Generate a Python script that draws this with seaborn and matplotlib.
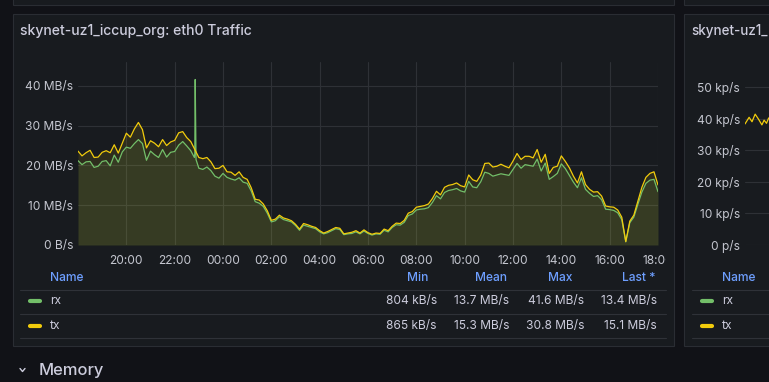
import numpy as np
import pandas as pd
import matplotlib
matplotlib.use("Agg")
import matplotlib.pyplot as plt
import seaborn as sns
from matplotlib.patches import Rectangle
from matplotlib.lines import Line2D
from matplotlib.transforms import Bbox, TransformedBbox

# ---------------- data ----------------
step_minutes = 10  # samples every 10 minutes, starting 18:00
rx_mb = [21.2, 20.2, 20.9, 21.0, 19.5, 19.8, 21.0, 21.2, 19.9, 22.6, 20.8, 23.4, 24.6, 24.3, 25.5, 26.5, 25.5,
         21.3, 23.6, 22.7, 22.0, 24.0, 22.1, 23.3, 23.5, 25.1, 26.0, 24.9, 23.7, 23.0, 19.3, 19.0, 19.6, 18.7,
         17.3, 16.8, 18.0,
         17.0, 16.6, 16.3, 16.9, 15.8, 15.5, 13.6, 10.9, 10.5, 9.7, 8.0, 5.8, 6.1, 7.1, 6.4, 6.1, 5.8, 4.9, 3.7,
         5.0, 4.7, 4.4, 4.1, 3.3, 2.8, 3.1, 3.6, 4.1, 3.9, 2.6, 2.8, 2.9, 3.3, 2.8, 3.5, 2.9,
         2.5, 2.8, 2.7, 3.7, 3.3, 4.4, 5.1, 5.0, 5.7, 7.4, 7.8, 8.8, 9.0, 9.1, 9.4, 10.7, 12.4, 11.6, 13.2, 13.7,
         13.9, 14.2, 13.6, 13.3, 16.0, 14.6, 14.4, 15.9, 18.3, 18.0, 17.3, 17.6, 17.9, 17.7, 17.5, 19.0,
         20.5, 19.3, 20.2, 20.0, 19.8, 21.6, 18.6, 20.6, 16.5, 17.2, 18.0, 20.4, 19.2, 17.5, 15.8, 14.4, 16.9,
         14.0, 13.0, 12.2, 12.4, 11.4, 9.0, 8.9, 8.7, 8.1, 6.4, 0.804, 5.6, 7.0, 10.2, 13.3, 15.5, 16.3, 16.5, 13.4]
tx_mb = [23.6, 22.4, 23.2, 23.8, 22.0, 22.1, 23.3, 23.7, 23.2, 25.2, 23.1, 25.6, 28.1, 27.1, 29.2, 30.8, 29.0,
         24.4, 26.2, 25.6, 24.7, 26.5, 25.0, 25.9, 26.3, 28.2, 28.5, 27.0, 26.0, 24.0, 22.0, 21.7, 22.0, 20.9,
         19.2, 19.3, 20.0,
         18.4, 18.3, 17.5, 18.4, 17.0, 16.5, 14.4, 11.5, 11.3, 10.3, 8.6, 6.2, 6.5, 7.5, 6.8, 6.5, 6.1, 5.2, 4.0,
         5.4, 5.1, 4.7, 4.4, 3.6, 3.0, 3.4, 3.9, 4.4, 4.2, 2.8, 3.0, 3.2, 3.6, 3.0, 3.8, 3.1,
         2.7, 3.0, 2.9, 4.0, 3.6, 4.7, 5.5, 5.4, 6.2, 8.0, 8.4, 9.5, 9.7, 9.9, 10.3, 11.7, 13.5, 12.6, 14.5, 15.0,
         15.2, 15.6, 14.9, 14.6, 17.6, 16.4, 16.0, 17.6, 20.5, 20.6, 19.6, 19.8, 20.3, 19.8, 19.4, 21.1,
         23.0, 21.5, 22.3, 22.3, 21.9, 24.0, 20.8, 22.8, 18.0, 19.5, 19.8, 22.4, 21.0, 19.4, 17.3, 15.6, 18.4,
         15.2, 14.0, 13.3, 13.4, 12.3, 9.8, 9.6, 9.5, 8.8, 7.0, 0.865, 6.0, 7.5, 11.0, 14.5, 17.0, 18.0, 18.4, 15.1]
rx_spike_minutes = [289, 291, 293]
rx_spike_mb = [22.0, 41.6, 21.5]

x_tick_hours = [2, 4, 6, 8, 10, 12, 14, 16, 18, 20, 22, 24]
x_tick_labels = ["20:00", "22:00", "00:00", "02:00", "04:00", "06:00",
                 "08:00", "10:00", "12:00", "14:00", "16:00", "18:00"]
y_ticks = [0, 10, 20, 30, 40]
y_tick_labels = ["0 B/s", "10 MB/s", "20 MB/s", "30 MB/s", "40 MB/s"]

series_names = ["rx", "tx"]
stat_headers = ["Min", "Mean", "Max", "Last *"]
rx_stats = ["804 kB/s", "13.7 MB/s", "41.6 MB/s", "13.4 MB/s"]
tx_stats = ["865 kB/s", "15.3 MB/s", "30.8 MB/s", "15.1 MB/s"]

# second (partially visible) panel: packets
pk_hours = [0.0, 0.17, 0.29, 0.42, 0.56, 0.70, 0.79, 0.89, 0.98, 1.10]
pk_tx = [38.3, 40.4, 39.0, 41.4, 39.8, 38.0, 39.5, 38.5, 40.2, 39.0]
pk_ticks = [0, 10, 20, 30, 40, 50]
pk_tick_labels = ["0 p/s", "10 kp/s", "20 kp/s", "30 kp/s", "40 kp/s", "50 kp/s"]

# ---------------- style ----------------
BG = "#111217"
PANEL = "#181b1f"
BORDER = "#2a2d33"
GRID = "#2e3136"
SEP = "#2f3238"
TEXT = "#ccccdc"
TICK = "#c4c6cf"
BLUE = "#6e9fff"
GREEN = "#73bf69"
YELLOW = "#f2cc0c"
PX = 0.72  # points per pixel at dpi 100

sns.set_style("dark")
plt.rcParams["font.family"] = ["Inter", "DejaVu Sans"]

W, H = 769, 382
fig = plt.figure(figsize=(W / 100, H / 100), dpi=100, facecolor=BG)


def X(p):
    return p / W


def Y(p):
    return 1 - p / H


def panel(x0, y0, x1, y1):
    fig.add_artist(Rectangle((X(x0), Y(y1)), X(x1) - X(x0), Y(y0) - Y(y1),
                             transform=fig.transFigure, fc=PANEL, ec=BORDER, lw=0.8, zorder=0))


panel(12.5, -20, 674, 4.5)
panel(683.5, -20, 820, 4.5)
panel(12.5, 13.5, 674, 346)
panel(683.5, 13.5, 820, 346)

# ---------------- main chart ----------------
hours = np.arange(len(rx_mb)) * step_minutes / 60.0
rx_df = pd.DataFrame({"hours": np.concatenate([hours, np.array(rx_spike_minutes) / 60.0]),
                      "value": np.concatenate([rx_mb, rx_spike_mb]), "series": "rx"}).sort_values("hours")
tx_df = pd.DataFrame({"hours": hours, "value": tx_mb, "series": "tx"})
df = pd.concat([rx_df, tx_df], ignore_index=True)

ax = fig.add_axes([X(78), Y(245), X(658) - X(78), Y(62) - Y(245)])
ax.patch.set_alpha(0)
ax.fill_between(rx_df["hours"], rx_df["value"], 0, color=GREEN, alpha=0.10, lw=0, zorder=1)
ax.fill_between(tx_df["hours"], tx_df["value"], 0, color=YELLOW, alpha=0.10, lw=0, zorder=1)
sns.lineplot(data=df, x="hours", y="value", hue="series", hue_order=series_names,
             palette={"rx": GREEN, "tx": YELLOW}, estimator=None, sort=True,
             legend=False, linewidth=0.9, ax=ax, zorder=3)
ax.set_xlim(0, 24)
ax.set_ylim(0, 46)
ax.set_xticks(x_tick_hours)
ax.set_xticklabels(x_tick_labels)
ax.set_yticks(y_ticks)
ax.set_yticklabels(y_tick_labels)
ax.set_xlabel("")
ax.set_ylabel("")
ax.grid(True, color=GRID, lw=0.8)
ax.set_axisbelow(True)
for s in ax.spines.values():
    s.set_visible(False)
ax.tick_params(axis="x", length=0, pad=7.0, labelsize=12 * PX, colors=TICK)
ax.tick_params(axis="y", length=0, pad=3.6, labelsize=12 * PX, colors=TICK)
clip = TransformedBbox(Bbox.from_extents(X(12), 0, X(666), 1), fig.transFigure)
for lbl in ax.get_xticklabels():
    lbl.set_clip_on(True)
    lbl.set_clip_box(clip)

# title
fig.text(X(20), Y(31), "skynet-uz1_iccup_org: eth0 Traffic", fontsize=14 * PX,
         color=TEXT, fontweight="medium", va="center", ha="left")

# legend table
fig.text(X(50), Y(278), "Name", fontsize=12 * PX, color=BLUE, fontweight="medium", va="center")
header_right = [428, 507, 572, 656]
value_right = [437, 509, 584, 657]
for h, xr in zip(stat_headers, header_right):
    fig.text(X(xr), Y(278), h, fontsize=12 * PX, color=BLUE, fontweight="medium", va="center", ha="right")
for yy in [289.5, 313.5, 337.5]:
    fig.add_artist(Line2D([X(20), X(666)], [Y(yy), Y(yy)], color=SEP, lw=0.8, transform=fig.transFigure))
for name, col, stats, yy in [("rx", GREEN, rx_stats, 301), ("tx", YELLOW, tx_stats, 326)]:
    fig.add_artist(Line2D([X(30), X(40)], [Y(yy), Y(yy)], color=col, lw=3.0, solid_capstyle="round",
                          transform=fig.transFigure))
    fig.text(X(50), Y(yy), name, fontsize=12 * PX, color=TEXT, va="center")
    for s, xr in zip(stats, value_right):
        fig.text(X(xr), Y(yy), s, fontsize=12 * PX, color=TEXT, va="center", ha="right")

# ---------------- second panel (cut off) ----------------
ax2 = fig.add_axes([X(745), Y(245), 580 / W, Y(62) - Y(245)])
ax2.patch.set_alpha(0)
sns.lineplot(x=pk_hours, y=pk_tx, color=YELLOW, linewidth=0.9, ax=ax2, zorder=3)
ax2.set_xlim(0, 24)
ax2.set_ylim(0, 57.9)
ax2.set_xticks([])
ax2.set_yticks(pk_ticks)
ax2.set_yticklabels(pk_tick_labels)
ax2.grid(True, axis="y", color=GRID, lw=0.8)
ax2.set_axisbelow(True)
for s in ax2.spines.values():
    s.set_visible(False)
ax2.tick_params(axis="y", length=0, pad=3.6, labelsize=12 * PX, colors=TICK)

fig.text(X(691), Y(31), "skynet-uz1_", fontsize=13.4 * PX, color=TEXT, fontweight="medium",
         va="center", ha="left")
fig.text(X(722), Y(278), "Name", fontsize=12 * PX, color=BLUE, fontweight="medium", va="center")
for yy in [289.5, 313.5, 337.5]:
    fig.add_artist(Line2D([X(692), X(800)], [Y(yy), Y(yy)], color=SEP, lw=0.8, transform=fig.transFigure))
for name, col, yy in [("rx", GREEN, 301), ("tx", YELLOW, 326)]:
    fig.add_artist(Line2D([X(702), X(712)], [Y(yy), Y(yy)], color=col, lw=3.0, solid_capstyle="round",
                          transform=fig.transFigure))
    fig.text(X(722), Y(yy), name, fontsize=12 * PX, color=TEXT, va="center")

# ---------------- Memory row ----------------
fig.add_artist(Line2D([X(20), X(22.5), X(25)], [Y(368.5), Y(371.5), Y(368.5)], color=TEXT, lw=1.0,
                      transform=fig.transFigure))
fig.text(X(39), Y(370), "Memory", fontsize=16.5 * PX, color=TEXT, fontweight="medium", va="center")

fig.savefig("out.png", dpi=100, facecolor=BG)
